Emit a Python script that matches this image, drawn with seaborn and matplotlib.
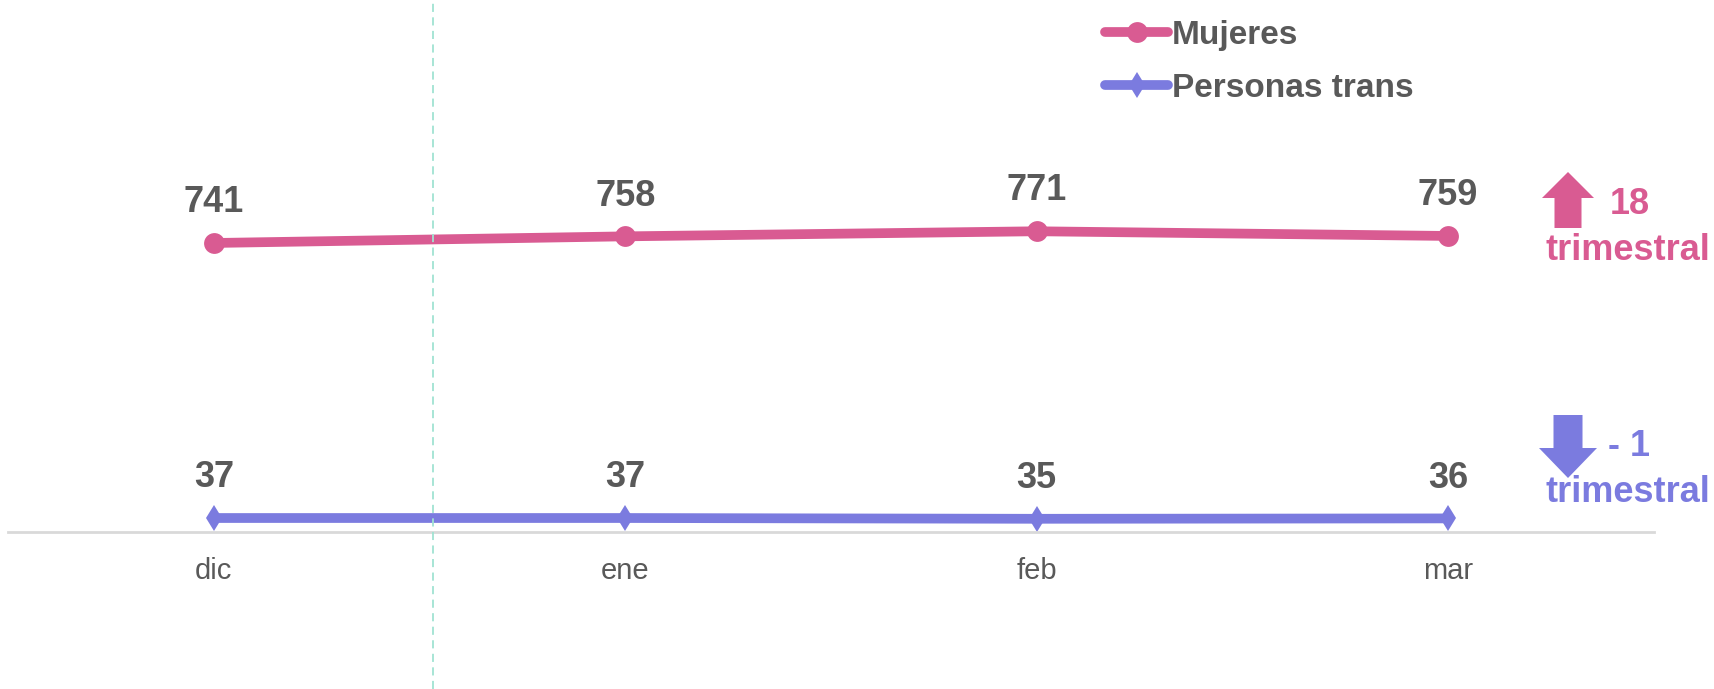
import matplotlib
matplotlib.use('Agg')
import pandas as pd
import seaborn as sns
import matplotlib.pyplot as plt
from matplotlib.patches import FancyArrow

# datos del grafico
meses = ['dic', 'ene', 'feb', 'mar']
mujeres = [741, 758, 771, 759]
trans = [37, 37, 35, 36]
series = ['Mujeres', 'Personas trans']
cambio = ['18', '- 1']

ROSA = '#D95B92'
MORADO = '#7B7BDF'
GRIS = '#595959'

df = pd.DataFrame({
    'mes': list(range(len(meses))) * 2,
    'valor': mujeres + trans,
    'serie': [series[0]] * len(meses) + [series[1]] * len(meses),
})

sns.set_theme(style='white')
plt.rcParams['font.family'] = ['Liberation Sans', 'DejaVu Sans']

fig = plt.figure(figsize=(17.15, 6.89), dpi=100)
ax = fig.add_axes([0, 0, 1, 1])
sns.lineplot(data=df, x='mes', y='valor', hue='serie', style='serie',
             palette=[ROSA, MORADO], markers=['o', 'd'], dashes=False,
             linewidth=7, markersize=15, markeredgewidth=0, legend=False, ax=ax)
handles = list(ax.lines[:2])
handles[1].set_markersize(13)

# etiquetas de valores
for vals in (mujeres, trans):
    for i, v in enumerate(vals):
        ax.annotate(str(v), (i, v), xytext=(0, 29), textcoords='offset points',
                    ha='center', va='center', fontsize=26, fontweight='bold',
                    color=GRIS)

ax.axvline(0.532, color='#A0E3D2', lw=1.3, ls=(0, (4.5, 3)), zorder=5)

ax.set_xlim(-0.52, 3.649)
ax.set_ylim(-400.7, 1363)
ax.set_xticks(range(len(meses)), meses)
ax.set_yticks([])
ax.set_xlabel('')
ax.set_ylabel('')
ax.tick_params(axis='x', length=0, pad=18, labelsize=21, labelcolor=GRIS)
for s in ['left', 'top', 'right']:
    ax.spines[s].set_visible(False)
ax.spines['bottom'].set_position(('data', 0))
ax.spines['bottom'].set_bounds(-0.5, 3.5)
ax.spines['bottom'].set_color('#D9D9D9')
ax.spines['bottom'].set_linewidth(2)

ax.legend(handles=handles, labels=series, loc='upper left',
          bbox_to_anchor=(1105 / 1715, 1 - 20 / 689), bbox_transform=fig.transFigure,
          frameon=False, prop={'weight': 'bold', 'size': 24}, labelcolor=GRIS,
          handlelength=1.9, handletextpad=0.1, labelspacing=0.66,
          borderpad=0, borderaxespad=0)

# flechas de variacion trimestral
t = fig.dpi_scale_trans
fig.patches.append(FancyArrow(15.68, 4.61, 0, 0.56, width=0.27, head_width=0.52,
                              head_length=0.26, length_includes_head=True,
                              color=ROSA, lw=0, transform=t, figure=fig))
fig.patches.append(FancyArrow(15.68, 2.74, 0, -0.63, width=0.29, head_width=0.58,
                              head_length=0.30, length_includes_head=True,
                              color=MORADO, lw=0, transform=t, figure=fig))
fig.text(16.10, 4.84, cambio[0], transform=t, ha='left', va='center',
         fontsize=26, fontweight='bold', color=ROSA)
fig.text(15.45, 4.39, 'trimestral', transform=t, ha='left', va='center',
         fontsize=26, fontweight='bold', color=ROSA)
fig.text(16.08, 2.42, cambio[1], transform=t, ha='left', va='center',
         fontsize=26, fontweight='bold', color=MORADO)
fig.text(15.45, 1.97, 'trimestral', transform=t, ha='left', va='center',
         fontsize=26, fontweight='bold', color=MORADO)

fig.savefig('out.png', dpi=100, facecolor='white')
